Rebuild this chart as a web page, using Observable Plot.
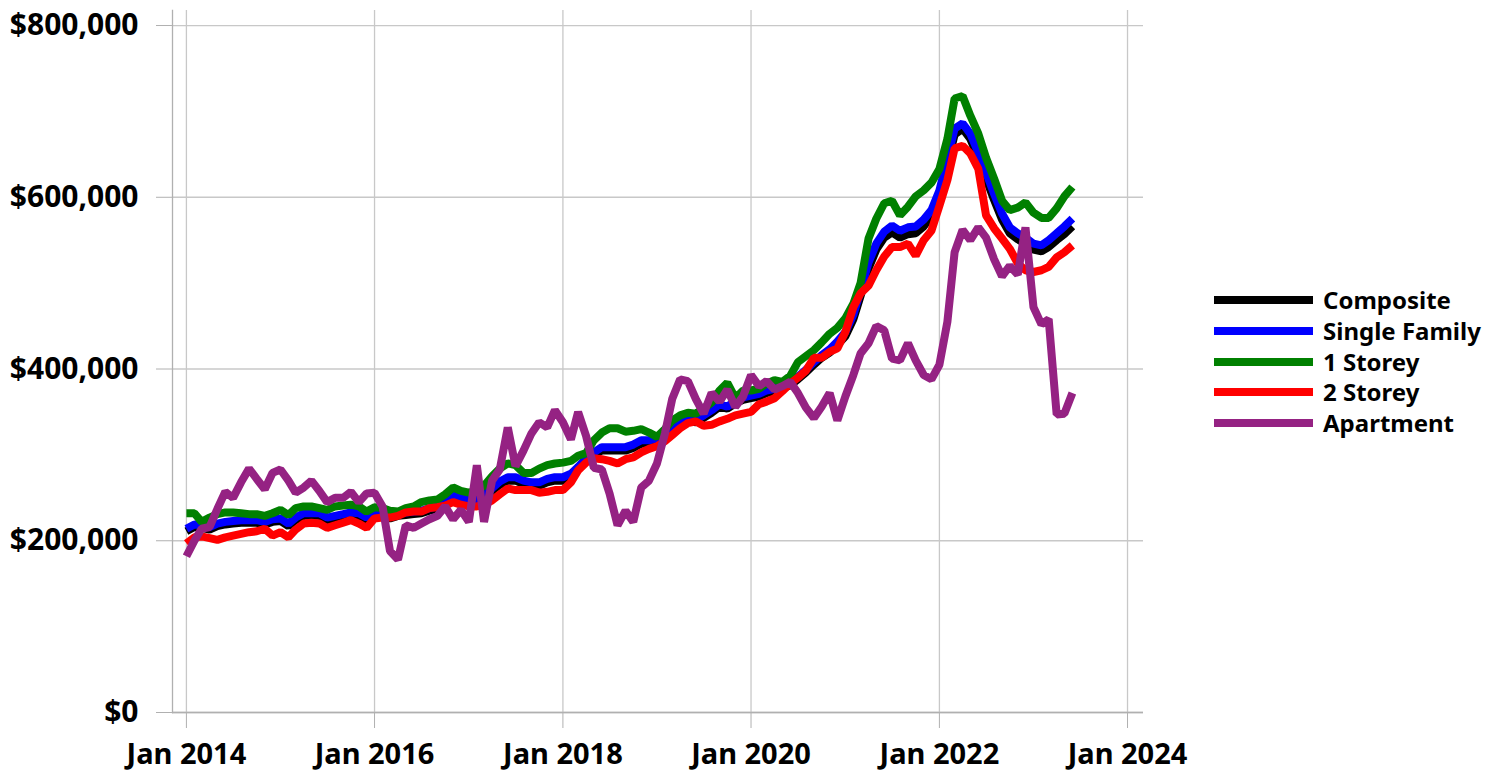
<!DOCTYPE html>
<html>
<head>
<meta charset="utf-8">
<script src="https://cdn.jsdelivr.net/npm/d3@7"></script>
<script src="https://cdn.jsdelivr.net/npm/@observablehq/plot@0.6"></script>
<style>
  html, body { margin: 0; padding: 0; background: #fff; }
  #wrap { position: relative; width: 1498px; height: 774px; font-family: "Noto Sans", sans-serif; }
  #chart svg { display: block; }
  #legend { position: absolute; left: 1214px; top: 285px; }
  .row { position: relative; height: 30.75px; }
  .swatch { position: absolute; left: 0; top: 11px; width: 99px; height: 8px; }
  .lab { position: absolute; left: 109px; top: 0; line-height: 30px; font-size: 24px; font-weight: bold; color: #000; white-space: nowrap; }
</style>
</head>
<body>
<div id="wrap">
  <div id="chart"></div>
  <div id="legend"></div>
</div>
<script>
// Monthly values, Jan 2014 .. Jun 2023, in thousands of dollars
const seriesNames = ["Composite", "Single Family", "1 Storey", "2 Storey", "Apartment"];
const seriesColors = ["#000000", "#0000ff", "#008000", "#ff0000", "#952283"];

const composite = [
 211,216,215,213,217,219,220,221,221,221,219,222,
 223,217,224,229,229,229,224,226,228,230,229,224,
 229,228,226,229,230,231,232,235,237,242,250,247,
 245,244,250,258,265,270,270,266,264,264,268,270,
 270,275,283,293,300,305,305,305,305,308,313,313,
 316,321,328,334,339,338,343,349,356,354,360,364,
 366,368,372,374,378,381,388,396,405,413,419,428,
 438,458,485,517,539,553,559,553,557,558,566,578,
 601,638,673,680,668,646,622,597,574,558,551,546,
 539,537,542,550,557,566];

const singleFamily = [
 214,219,218,216,220,222,223,224,224,224,222,225,
 226,220,227,232,232,232,227,229,231,233,232,227,
 232,231,229,232,233,234,235,238,240,245,253,250,
 248,247,253,261,269,274,274,270,268,268,272,274,
 274,278,286,296,303,309,309,309,309,312,317,317,
 319,324,331,337,342,341,346,352,359,356,363,367,
 369,371,375,377,381,384,391,399,408,416,423,432,
 443,463,491,524,546,560,567,561,565,566,574,585,
 608,645,680,686,674,652,629,604,581,565,558,553,
 546,544,550,558,566,575];

const oneStorey = [
 232,232,222,227,231,233,233,232,231,231,229,232,
 236,230,238,240,240,238,236,240,241,242,240,234,
 239,238,235,234,238,240,245,247,248,254,262,258,
 256,258,264,275,284,290,288,279,279,284,288,290,
 291,293,299,302,317,326,331,331,327,328,330,326,
 321,330,340,346,349,348,354,361,375,384,366,375,
 375,377,383,387,385,392,408,415,422,431,441,448,
 459,476,500,552,575,593,596,579,589,601,608,617,
 633,668,715,718,695,674,646,622,596,585,588,594,
 582,576,576,587,601,612];

const twoStorey = [
 197,204,205,203,201,204,206,208,210,211,214,206,
 210,204,213,220,221,220,215,218,221,224,220,215,
 226,227,227,229,233,234,234,238,239,241,245,242,
 240,240,242,247,254,261,259,259,259,256,257,259,
 259,268,282,291,296,295,293,290,295,297,303,307,
 310,316,323,331,337,339,334,335,339,342,346,348,
 350,359,362,366,374,383,390,398,413,413,420,424,
 443,472,488,497,515,531,542,542,546,532,550,561,
 590,620,657,660,651,633,579,564,552,540,523,515,
 513,515,519,530,536,544];

const apartment = [
 182,200,214,216,237,257,250,268,284,272,260,279,
 283,270,256,262,270,258,245,250,250,257,245,255,
 256,240,188,178,218,215,220,225,229,240,225,236,
 222,288,222,270,283,332,287,305,325,338,332,352,
 338,318,350,322,285,283,255,218,235,222,262,270,
 290,325,365,388,386,365,348,372,362,376,356,368,
 393,380,386,376,380,385,372,355,343,356,372,340,
 368,393,418,430,450,445,412,410,430,410,393,388,
 405,455,536,562,550,565,553,528,508,520,510,565,
 472,452,458,347,348,372];

const yTicks = [0, 200000, 400000, 600000, 800000];
const xTickYears = [2014, 2016, 2018, 2020, 2022, 2024];

const months = d3.utcMonth.range(new Date(Date.UTC(2014, 0, 1)), new Date(Date.UTC(2023, 6, 1)));
const allValues = [composite, singleFamily, oneStorey, twoStorey, apartment];
const data = allValues.flatMap((vals, s) =>
  vals.map((v, i) => ({ date: months[i], value: v * 1000, series: seriesNames[s] })));
const xTicks = xTickYears.map(y => new Date(Date.UTC(y, 0, 1)));

const gridColor = "#c8c8c8";
const axisColor = "#b0b0b0";

const chart = Plot.plot({
  width: 1498,
  height: 774,
  marginLeft: 172,
  marginRight: 355,
  marginTop: 10,
  marginBottom: 62,
  style: { fontFamily: "'Noto Sans', sans-serif", background: "#fff" },
  x: { type: "utc", domain: [new Date(Date.UTC(2013, 10, 8)), new Date(Date.UTC(2024, 2, 3))] },
  y: { domain: [0, 817500] },
  color: { domain: seriesNames, range: seriesColors },
  marks: [
    Plot.gridY({ ticks: yTicks, stroke: gridColor, strokeOpacity: 1, strokeWidth: 1.3 }),
    Plot.gridX({ ticks: xTicks, stroke: gridColor, strokeOpacity: 1, strokeWidth: 1.3 }),
    Plot.frame({ anchor: "left", stroke: axisColor, strokeWidth: 1.3 }),
    Plot.ruleY([0], { stroke: axisColor, strokeWidth: 1.3 }),
    Plot.axisY({ ticks: yTicks, tickFormat: d3.format("$,"), tickSize: 16, tickPadding: 18,
      stroke: axisColor, fill: "#000", fontSize: 30, fontWeight: "bold", label: null }),
    Plot.axisX({ ticks: xTicks, tickFormat: d3.utcFormat("%b %Y"), tickSize: 16, tickPadding: 15,
      stroke: axisColor, fill: "#000", fontSize: 29, fontWeight: "bold", label: null }),
    Plot.line(data, { x: "date", y: "value", z: "series", stroke: "series",
      strokeWidth: 8, strokeLinejoin: "miter", strokeLinecap: "butt" })
  ]
});
document.getElementById("chart").appendChild(chart);

const legend = document.getElementById("legend");
seriesNames.forEach((name, i) => {
  const row = document.createElement("div");
  row.className = "row";
  const sw = document.createElement("div");
  sw.className = "swatch";
  sw.style.background = seriesColors[i];
  const lab = document.createElement("div");
  lab.className = "lab";
  lab.textContent = name;
  row.appendChild(sw);
  row.appendChild(lab);
  legend.appendChild(row);
});
</script>
</body>
</html>
